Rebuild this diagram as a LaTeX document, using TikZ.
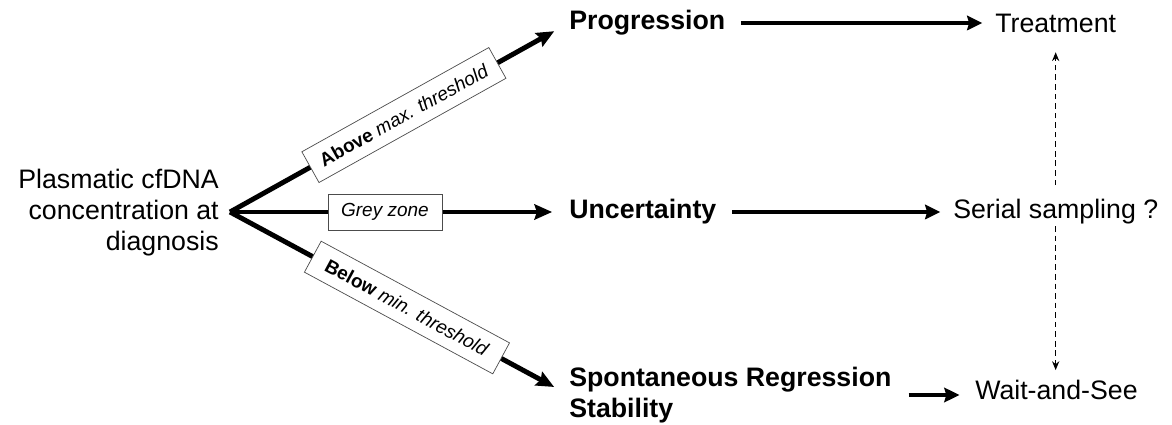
\documentclass[tikz,border=0pt]{standalone}
\usepackage{fontspec}
\setmainfont{Liberation Sans}
\usepackage{tikz}
\usetikzlibrary{arrows.meta,positioning}
\tikzstyle{txt} = [inner sep=0pt, font=\fontsize{19}{22}\selectfont]
\tikzstyle{fanline} = [line width=3.5pt, -{Stealth[length=4.4mm,width=3.8mm,inset=0.6mm]}, shorten >=12pt]
\tikzstyle{arrow} = [line width=2.6pt, -{Stealth[length=3.8mm,width=3.6mm,inset=0.5mm]}]
\tikzstyle{dasharrow} = [line width=0.8pt, dash pattern=on 4pt off 2.8pt, -{Stealth[length=2.2mm,width=1.8mm]}]
\tikzstyle{threshbox} = [draw=black!70, line width=0.5pt, fill=white, minimum width=5.35cm, minimum height=0.88cm, inner sep=1pt, font=\fontsize{13.5}{15}\selectfont]
\tikzstyle{zonebox} = [draw=black!70, line width=0.5pt, fill=white, minimum width=2.85cm, minimum height=0.9cm, inner sep=1pt, font=\fontsize{13.5}{15}\selectfont]

\begin{document}
\begin{tikzpicture}[x=0.025cm, y=-0.025cm]
\useasboundingbox (0,0) rectangle (1172,425);

% Starting point
\node[txt, anchor=east, align=right] (source) at (219,213) {Plasmatic cfDNA\\concentration at\\diagnosis};
\coordinate (fan) at (230,212);

% Three outcomes
\node[txt, anchor=west] (progression) at (569,23) {\textbf{Progression}};
\node[txt, anchor=west] (uncertainty) at (569,212) {\textbf{Uncertainty}};
\node[txt, anchor=west, align=left] (spontaneous) at (569,395) {\textbf{Spontaneous Regression}\\\textbf{Stability}};

% Decisions
\node[txt, anchor=west] (treatment) at (995,23) {Treatment};
\node[txt, anchor=west] (serial) at (953,212) {Serial sampling ?};
\node[txt, anchor=west] (waitsee) at (975,390) {Wait-and-See};

% Thresholds
\draw[fanline] (fan) -- node[threshbox, sloped, pos=0.513] {\textbf{Above} \textit{max. threshold}} (progression.west);
\draw[fanline] (fan) -- node[zonebox, pos=0.457] {\textit{Grey zone}} (uncertainty.west);
\draw[fanline] (fan) -- node[threshbox, sloped, pos=0.522] {\textbf{Below} \textit{min. threshold}} (spontaneous.west);

\draw[arrow, shorten <=11pt, shorten >=9pt] (progression.east) -- (treatment.west);
\draw[arrow, shorten <=11pt, shorten >=9pt] (uncertainty.east) -- (serial.west);
\draw[arrow, shorten <=12pt, shorten >=11pt] (spontaneous.east) -- (spontaneous.east -| waitsee.west);

% Serial sampling may go either way
\draw[dasharrow, shorten <=10pt, shorten >=14pt] (serial.north -| treatment.south) -- (treatment.south);
\draw[dasharrow, shorten <=1pt, shorten >=7pt] (serial.south -| treatment.south) -- (treatment.south |- waitsee.north);
\end{tikzpicture}
\end{document}
